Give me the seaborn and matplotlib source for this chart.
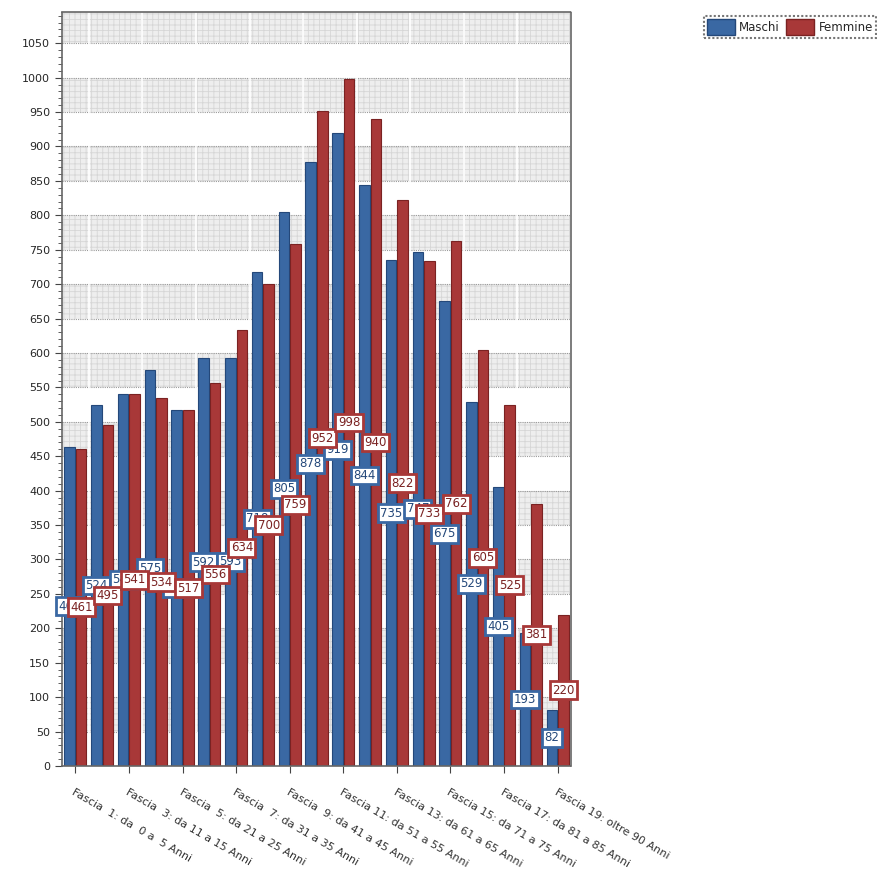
import matplotlib
matplotlib.use("Agg")
import matplotlib.pyplot as plt
import seaborn as sns
import pandas as pd
import numpy as np
from matplotlib.patches import Patch

categories = [
    "Fascia  1: da  0 a  5 Anni", "Fascia  2: da  6 a 10 Anni", "Fascia  3: da 11 a 15 Anni",
    "Fascia  4: da 16 a 20 Anni", "Fascia  5: da 21 a 25 Anni", "Fascia  6: da 26 a 30 Anni",
    "Fascia  7: da 31 a 35 Anni", "Fascia  8: da 36 a 40 Anni", "Fascia  9: da 41 a 45 Anni",
    "Fascia 10: da 46 a 50 Anni", "Fascia 11: da 51 a 55 Anni", "Fascia 12: da 56 a 60 Anni",
    "Fascia 13: da 61 a 65 Anni", "Fascia 14: da 66 a 70 Anni", "Fascia 15: da 71 a 75 Anni",
    "Fascia 16: da 76 a 80 Anni", "Fascia 17: da 81 a 85 Anni", "Fascia 18: da 86 a 90 Anni",
    "Fascia 19: oltre 90 Anni",
]
maschi = [464, 524, 541, 575, 517, 592, 593, 718, 805, 878, 919, 844, 735, 747, 675, 529, 405, 193, 82]
femmine = [461, 495, 541, 534, 517, 556, 634, 700, 759, 952, 998, 940, 822, 733, 762, 605, 525, 381, 220]
series = ["Maschi", "Femmine"]
colors = {"Maschi": "#3a68a3", "Femmine": "#a83838"}
edge_colors = {"Maschi": "#24487a", "Femmine": "#7a2222"}

df = pd.DataFrame({
    "cat": categories * 2,
    "serie": ["Maschi"] * len(categories) + ["Femmine"] * len(categories),
    "val": maschi + femmine,
})

sns.set_style("white")
plt.rcParams["font.family"] = ["DejaVu Sans"]
plt.rcParams["hatch.linewidth"] = 0.6

fig = plt.figure(figsize=(8.78, 8.75), dpi=100)
ax = fig.add_axes([0.0706, 0.1246, 0.5797, 0.8614])

ymax = 1095
# alternating bands
for lo in range(50, 1100, 100):
    ax.axhspan(lo, min(lo + 50, ymax), facecolor="#eeeeee", edgecolor="#d6d6d6",
               hatch="+++", linewidth=0, zorder=0)
for y in range(0, 1100, 50):
    ax.axhline(y, color="#9a9a9a", lw=0.8, ls=(0, (1, 1)), zorder=0.5)
for xb in np.arange(0.5, 19, 2):
    ax.axvline(xb, color="white", lw=1.2, zorder=0.6)

sns.barplot(data=df, x="cat", y="val", hue="serie", hue_order=series,
            palette=colors, width=0.86, gap=0.08, ax=ax, legend=False, saturation=1,
            order=categories, zorder=2)

for cont, s in zip(ax.containers, series):
    for bar in cont:
        bar.set_edgecolor(edge_colors[s])
        bar.set_linewidth(0.8)

vals = {"Maschi": maschi, "Femmine": femmine}
for cont, s in zip(ax.containers, series):
    for bar, v in zip(cont, vals[s]):
        cx = bar.get_x() + bar.get_width() / 2
        ax.text(cx, v / 2, str(v), ha="center", va="center", fontsize=8.5,
                color=edge_colors[s], zorder=5,
                bbox=dict(boxstyle="square,pad=0.2", facecolor="white",
                          edgecolor=colors[s], linewidth=2))

ax.set_xlim(-0.5, 18.5)
ax.set_ylim(0, ymax)
ax.set_yticks(range(0, 1100, 50))
ax.set_yticks(range(0, 1100, 10), minor=True)
ax.tick_params(axis="y", which="major", length=5, labelsize=8, color="#444444", direction="out", left=True)
ax.tick_params(axis="y", which="minor", length=3, color="#444444", direction="out", left=True)
ax.set_xticks(range(0, 19, 2))
ax.set_xticklabels([categories[i] for i in range(0, 19, 2)], rotation=-30,
                   ha="left", rotation_mode="anchor", fontsize=8, color="#333333")
ax.tick_params(axis="x", length=5, color="#444444", direction="out", bottom=True, pad=10)
ax.set_xlabel("")
ax.set_ylabel("")
for sp in ax.spines.values():
    sp.set_color("#666666")
    sp.set_linestyle((0, (2, 1)))
    sp.set_linewidth(1.2)

handles = [Patch(facecolor=colors[s], edgecolor=edge_colors[s], label=s) for s in series]
leg = fig.legend(handles=handles, loc="upper left", bbox_to_anchor=(0.795, 0.988),
                 ncol=2, fontsize=8.5, frameon=True, fancybox=False,
                 handlelength=2.4, handleheight=1.7, columnspacing=0.5,
                 handletextpad=0.35, borderpad=0.25)
leg.get_frame().set_edgecolor("#555555")
leg.get_frame().set_linestyle((0, (1, 1)))
leg.get_frame().set_linewidth(1.5)

fig.savefig("out.png", dpi=100)
